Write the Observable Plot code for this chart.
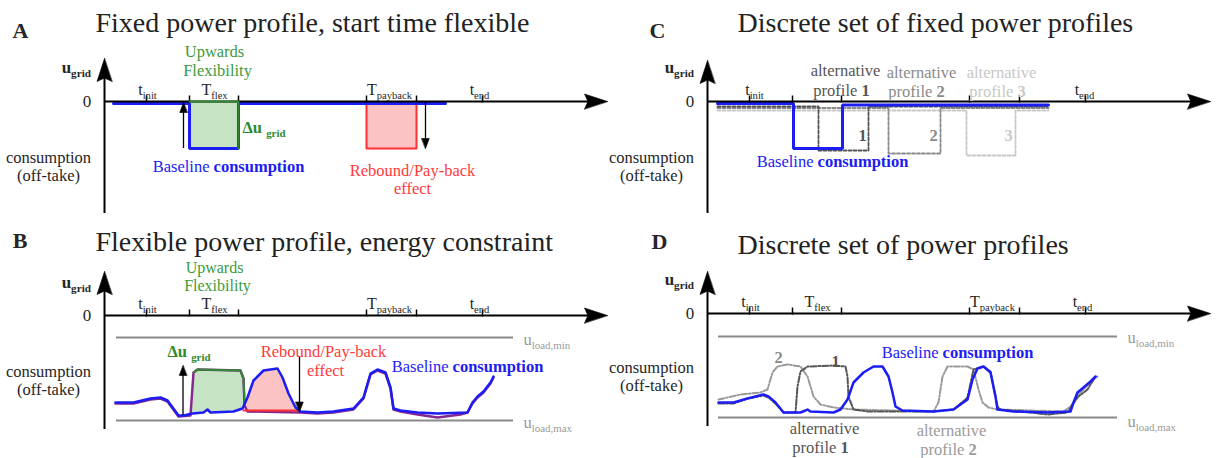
<!DOCTYPE html>
<html><head><meta charset="utf-8">
<script src="https://cdn.jsdelivr.net/npm/d3@7"></script>
<script src="https://cdn.jsdelivr.net/npm/@observablehq/plot@0.6"></script>
<style>
html,body{margin:0;padding:0;background:#fff;}
#fig{position:relative;width:1222px;height:458px;overflow:hidden;background:#fff;}
#fig > div{position:absolute;}
</style></head><body><div id="fig"></div>
<script>
// ---------------- data (time units / grid-power units) ----------------
const panelLetters = ["A", "B", "C", "D"];
const panelTitles = [
  "Fixed power profile, start time flexible",
  "Flexible power profile, energy constraint",
  "Discrete set of fixed power profiles",
  "Discrete set of power profiles"
];
const tickTimes = [8.4, 17, 26.8, 52.4, 62.4, 75.6];
const tickLabels = [[8.6, "t_{init}"], [22, "T_{flex}"], [57, "T_{payback}"], [75, "t_{end}"]];
const tickLabelsC = [[9.4, "t_{init}"], [75.4, "t_{end}"]];

// Panel A
const baselineA = [[1.8,-0.4],[17,-0.4],[17,-9.4],[26.8,-9.4],[26.8,-0.4],[68.2,-0.4]];
const flexA = [[17,0],[26.8,0],[26.8,-9.4]];
const flexAreaA = [[17,-9.4,0],[26.8,-9.4,0]];
const reboundAreaA = [[52.4,-9.4,0],[62.4,-9.4,0]];
const reboundA = [[52.4,0],[52.4,-9.4],[62.4,-9.4],[62.4,0]];

// Panel B
const baselineB = [[2.2,-17.4],[5.8,-17.4],[9.2,-16.6],[11.2,-16.4],[12.6,-17],[14.8,-20],[15.8,-20],[17.6,-19.6],[19.8,-19.4],[20.6,-18.8],[21.2,-19.4],[25.8,-19.2],[27.6,-18.6],[28.6,-16.4],[29.8,-13],[31.8,-11],[34.6,-10.6],[35.6,-12.4],[36.8,-15.6],[38.2,-18.4],[39.2,-19.2],[42.6,-19.4],[45.8,-19.2],[49.8,-18.6],[51.8,-16.4],[53.2,-11.6],[54.6,-10.8],[56.2,-11.4],[57.2,-14.4],[57.8,-18.6],[59.2,-19],[62.6,-19.4],[66.6,-19.6],[72.6,-19.4],[73.6,-17.4],[74.6,-16.2],[75.8,-15.2],[77.2,-13.4],[77.8,-12.2]];
const flexibleB = [[2.2,-17.6],[5.8,-17.6],[9.2,-16.8],[11.2,-16.6],[12.6,-17.2],[14.8,-20.2],[17.2,-20],[17.8,-11.4],[18.6,-10.8],[27.2,-11],[27.8,-12.6],[28,-18],[28.6,-19.2],[39.2,-19.4],[42.6,-19.6],[45.8,-19.4],[49.8,-18.8],[51.8,-16.6],[53.2,-11.8],[54.6,-11],[56.2,-11.6],[57.2,-14.6],[57.8,-18.8],[59.2,-19.2],[62.6,-19.8],[66.6,-20.4],[71.2,-19.8],[72.6,-19.4],[73.6,-17.6],[74.6,-16.4],[75.8,-15.4],[77.2,-13.6],[77.8,-12.4]];
const flexTopB = [[17.8,-11.4],[18.6,-10.8],[27.2,-11],[27.8,-12.6],[28,-17.2]];
const flexAreaB = [[17.6,-19.6,-19.6],[17.8,-19.6,-11.4],[18.6,-19.5,-10.8],[19.8,-19.4,-10.9],[20.6,-18.8,-10.9],[21.2,-19.4,-10.9],[25.8,-19.2,-11],[27.2,-18.9,-11],[27.6,-18.6,-11.8],[27.8,-18.2,-12.6],[28.1,-17.4,-17.4]];
const reboundAreaB = [[28.1,-17.4,-17.4],[28.6,-19,-16.4],[29.8,-19,-13],[31.8,-19,-11],[34.6,-19,-10.6],[35.6,-19,-12.4],[36.8,-19,-15.6],[38.2,-19,-18.4],[39,-19,-19]];
const reboundFloorB = [[27.8,-19],[38.8,-19]];
const loadMinB = -4.4, loadMaxB = -21;

// Panel C
const baselineC = [[2,-0.4],[17.2,-0.4],[17.2,-9.4],[27,-9.4],[27,-0.7],[68.2,-0.7]];
const profile1C = [[2,-1],[22.2,-1],[22.2,-9.8],[32.2,-9.8],[32.2,-1],[68.2,-1]];
const profile2C = [[2,-1.3],[36.2,-1.3],[36.2,-10.4],[46.6,-10.4],[46.6,-1.3],[68.2,-1.3]];
const profile3C = [[2,-1.8],[51.8,-1.8],[51.8,-10.8],[61.6,-10.8],[61.6,-1.8],[68.2,-1.8]];

// Panel D
const baselineD = [[2.2,-17.8],[5.2,-17.8],[8,-17],[11.2,-16.2],[12.2,-16.6],[13.6,-17.8],[15.2,-19.8],[18.6,-19.8],[19.6,-19.4],[20,-19.2],[20.6,-19.6],[25.2,-19.8],[26.6,-19.2],[28,-17.2],[29.2,-13.8],[31.2,-11.8],[33.2,-10.6],[35,-10.6],[36.2,-12.6],[37,-15.8],[37.6,-18.6],[39,-19.4],[45.2,-19.6],[49.2,-19.2],[52,-17.2],[53,-13.2],[54,-11],[55.2,-10.6],[56.6,-11.8],[57.6,-16.6],[58,-19.2],[61.2,-19.6],[68,-19.8],[72.6,-19.6],[73.2,-17.8],[74,-15.8],[75.2,-14.8],[76.6,-13.6],[77.6,-12.6]];
const alt1D = [[2.2,-18],[5.2,-18],[8,-17],[11.2,-16.4],[12.2,-16.8],[13.6,-18],[15.2,-19.8],[17.6,-19.8],[18,-14.6],[18.6,-11.6],[20,-10.6],[25.2,-10.4],[27.6,-10.6],[28,-12.6],[28.2,-16.6],[29.2,-19.2],[32,-19.6],[45.2,-19.6],[49.2,-19.2],[52,-16.8],[53.2,-11.2],[55.2,-10.6],[56.6,-11.6],[58,-18.6],[58.6,-19.2],[64.6,-19.8],[68,-20.2],[72,-19.8],[73,-18.2],[74.2,-16.6],[76,-15.2],[77.6,-12.6]];
const alt2D = [[2.2,-17.2],[6.6,-16.2],[10.6,-15.8],[12,-15.2],[13,-11.8],[14,-10.6],[16,-10.2],[18.6,-10.6],[20,-12.6],[21.2,-16.6],[22.6,-18.2],[25.2,-18.8],[29.2,-19.2],[45.2,-19.6],[46.2,-17.8],[47,-12.6],[48,-10.6],[52,-10.6],[53.2,-11.2],[54.2,-15.2],[55,-17.8],[56.2,-18.8],[58,-19.2],[71.2,-19.6],[72.6,-18.6],[74.6,-15.8],[77.2,-13.2],[78,-12.6]];
const loadMinD = -4.6, loadMaxD = -20.8;

// ---------------- styling / layout ----------------
const W = 611, H = 229, PX = 5;
const FONT = "Liberation Serif";
const INK = "#262626";
const BLUE = "#1c1cf5", PURPLE = "#86288f";
const GREEN_TXT = "#3b9b3b", GREEN_LINE = "#2f8a2f", GREEN_FILL = "#c6e3c4";
const RED_TXT = "#ff3a3a", RED_LINE = "#ff3030", RED_FILL = "#fbc3c3";
const G1 = "#555555", G2 = "#8a8a8a", G3 = "#c8c8c8";
const X = d => d[0], Y = d => d[1];

function head(tip, dir, len, half, notch = 1) {
  const [tx, ty] = tip, [dx, dy] = dir, px = -dy, py = dx;
  const bx = tx - dx * len, by = ty - dy * len;
  const pts = [[tx, ty], [bx + px * half, by + py * half]];
  if (notch < 1) pts.push([tx - dx * len * notch, ty - dy * len * notch]);
  pts.push([bx - px * half, by - py * half]);
  return Plot.line(pts, {x: X, y: Y, fill: "black", stroke: "black", strokeWidth: 0.6, curve: "linear-closed"});
}
function txt(t, u, s, o = {}) {
  return Plot.text([[t, u, s]], {x: X, y: Y, text: d => d[2], fontFamily: FONT, fontSize: 16.5,
    fill: INK, textAnchor: "middle", lineAnchor: "middle", ...o});
}
function vArrow(t, from, tip) {
  const dir = tip > from ? 1 : -1;
  return [Plot.ruleX([t], {y1: from, y2: tip - dir * 1.6, stroke: "black", strokeWidth: 1.3}),
          head([t, tip], [0, dir], 2, 0.75)];
}
function frame(p) {
  const tipY = p.yTop;
  return [
    Plot.ruleX([0], {y1: p.yBottom, y2: tipY - 3, stroke: "black", strokeWidth: 2}),
    head([0, tipY], [0, 1], 4.6, 1.5, 0.85),
    Plot.ruleY([0], {x1: 0, x2: 97, stroke: "black", strokeWidth: 2}),
    head([100.6, 0], [1, 0], 4.6, 1.5, 0.85),
    Plot.ruleX(tickTimes, {x: d => d, y1: -0.3, y2: 1.1, stroke: "black", strokeWidth: 1.5}),
    Plot.text(p.ticks, {x: X, y: 2.3, text: d => d[1], fontFamily: FONT, fontSize: 16, fill: INK}),
    txt(-3.5, 0, "0", {fontSize: 17}),
    txt(-2.7, p.ugridY, "u_{grid}", {fontWeight: "bold", fontSize: 17, textAnchor: "end"}),
    txt(-11.2, p.consY, "consumption"),
    txt(-11.2, p.consY - 3.6, "(off-take)"),
    txt(p.letter[0], p.letter[1], p.letter[2], {fontWeight: "bold", fontSize: 22}),
    txt(p.title[0], p.title[1], p.title[2], {fontSize: 28, textAnchor: "start", fill: "#222"})
  ];
}
function applyMarkup(svg) {
  svg.querySelectorAll("text").forEach(el => {
    const s = el.textContent;
    if (!/[_*]/.test(s)) return;
    const fs = parseFloat(getComputedStyle(el).fontSize) || 16.5;
    el.textContent = "";
    const re = /(\*[^*]+\*)|(_\{[^}]+\})|([^*_]+)/g;
    let m;
    while ((m = re.exec(s))) {
      const ts = document.createElementNS("http://www.w3.org/2000/svg", "tspan");
      if (m[1]) { ts.textContent = m[1].slice(1, -1); ts.setAttribute("font-weight", "bold"); }
      else if (m[2]) { ts.textContent = m[2].slice(2, -1); ts.setAttribute("font-size", (fs * 0.66).toFixed(1)); ts.setAttribute("dy", (fs * 0.26).toFixed(1)); }
      else ts.textContent = m[3];
      el.appendChild(ts);
    }
  });
}
const fig = document.getElementById("fig");
function make(left, top, axisX, axisY, marks) {
  const svg = Plot.plot({
    width: W, height: H, margin: 0,
    x: {domain: [-axisX / PX, (W - axisX) / PX], axis: null},
    y: {domain: [(axisY - H) / PX, axisY / PX], axis: null},
    style: {background: "transparent", overflow: "visible"},
    marks
  });
  const d = document.createElement("div");
  d.style.left = left + "px"; d.style.top = top + "px";
  d.appendChild(svg); fig.appendChild(d);
  applyMarkup(svg);
}

// ---------------- Panel A ----------------
make(0, 0, 104, 101, [
  Plot.areaY(flexAreaA, {x: X, y1: d => d[1], y2: d => d[2], fill: GREEN_FILL}),
  Plot.areaY(reboundAreaA, {x: X, y1: d => d[1], y2: d => d[2], fill: RED_FILL}),
  Plot.line(reboundA, {x: X, y: Y, stroke: RED_LINE, strokeWidth: 2}),
  Plot.line(baselineA, {x: X, y: Y, stroke: BLUE, strokeWidth: 3, strokeLinejoin: "miter"}),
  ...frame({yTop: 8.6, yBottom: -22.4, ticks: tickLabels, ugridY: 6.8, consY: -11.2,
    letter: [-16.8, 14.2, panelLetters[0]], title: [-1.8, 15.6, panelTitles[0]]}),
  Plot.line(flexA, {x: X, y: Y, stroke: GREEN_LINE, strokeWidth: 2}),
  ...vArrow(15.8, -9.4, -0.2),
  ...vArrow(64.2, 0, -9.4),
  txt(22, 10, "Upwards", {fill: GREEN_TXT}),
  txt(22.6, 6.2, "Flexibility", {fill: GREEN_TXT}),
  txt(27.6, -5.2, "Δu _{grid}", {fill: GREEN_LINE, fontWeight: "bold", textAnchor: "start"}),
  txt(24.8, -13, "Baseline *consumption*", {fill: BLUE}),
  txt(61.6, -13.8, "Rebound/Pay-back", {fill: RED_TXT}),
  txt(61.6, -17.4, "effect", {fill: RED_TXT})
]);

// ---------------- Panel B ----------------
make(0, 229, 104, 86, [
  Plot.areaY(flexAreaB, {x: X, y1: d => d[1], y2: d => d[2], fill: GREEN_FILL}),
  Plot.areaY(reboundAreaB, {x: X, y1: d => d[1], y2: d => d[2], fill: RED_FILL}),
  Plot.ruleY([loadMinB, loadMaxB], {x1: 2.4, x2: 81.8, stroke: G2, strokeWidth: 2}),
  txt(83.8, loadMinB - 0.4, "u_{load,min}", {fill: "#9a9a9a", textAnchor: "start"}),
  txt(83.8, loadMaxB - 0.4, "u_{load,max}", {fill: "#9a9a9a", textAnchor: "start"}),
  Plot.line(flexibleB, {x: X, y: Y, stroke: PURPLE, strokeWidth: 2.5}),
  Plot.line(flexTopB, {x: X, y: Y, stroke: GREEN_LINE, strokeWidth: 2}),
  Plot.line(reboundFloorB, {x: X, y: Y, stroke: RED_LINE, strokeWidth: 2}),
  Plot.line(baselineB, {x: X, y: Y, stroke: BLUE, strokeWidth: 2.5}),
  ...frame({yTop: 8.8, yBottom: -22.8, ticks: tickLabels, ugridY: 6.6, consY: -11.2,
    letter: [-16.9, 14.9, panelLetters[1]], title: [-1.8, 14.6, panelTitles[1]]}),
  ...vArrow(15.7, -20, -10),
  ...vArrow(39, -8.3, -19.3),
  txt(22, 9.5, "Upwards", {fill: GREEN_TXT, fontSize: 16}),
  txt(22.6, 5.9, "Flexibility", {fill: GREEN_TXT, fontSize: 16}),
  txt(12.6, -7.2, "Δu _{grid}", {fill: GREEN_LINE, fontWeight: "bold", textAnchor: "start"}),
  txt(43.8, -7.2, "Rebound/Pay-back", {fill: RED_TXT}),
  txt(44.2, -11.1, "effect", {fill: RED_TXT}),
  txt(72.6, -10.2, "Baseline *consumption*", {fill: BLUE})
]);

// ---------------- Panel C ----------------
make(611, 0, 96, 101, [
  Plot.line(profile3C, {x: X, y: Y, stroke: G3, strokeWidth: 1.8, strokeDasharray: "3,2"}),
  Plot.line(profile2C, {x: X, y: Y, stroke: G2, strokeWidth: 1.8, strokeDasharray: "3,2"}),
  Plot.line(profile1C, {x: X, y: Y, stroke: G1, strokeWidth: 1.8, strokeDasharray: "3,2"}),
  Plot.line(baselineC, {x: X, y: Y, stroke: BLUE, strokeWidth: 3, strokeLinejoin: "miter"}),
  ...frame({yTop: 8.2, yBottom: -22.4, ticks: tickLabelsC, ugridY: 6.8, consY: -11.2,
    letter: [-10, 14.2, panelLetters[2]], title: [6, 15.7, panelTitles[2]]}),
  txt(31, -6.8, "1", {fill: G1, fontWeight: "bold"}),
  txt(45.2, -6.8, "2", {fill: G2, fontWeight: "bold"}),
  txt(60.2, -6.8, "3", {fill: G3, fontWeight: "bold"}),
  txt(27.6, 6.2, "alternative", {fill: G1}),
  txt(26.8, 2.2, "profile *1*", {fill: G1}),
  txt(42.8, 5.8, "alternative", {fill: G2}),
  txt(41.8, 2, "profile *2*", {fill: G2}),
  txt(58.8, 5.8, "alternative", {fill: G3}),
  txt(58, 2, "profile *3*", {fill: G3}),
  txt(25, -12, "Baseline *consumption*", {fill: BLUE})
]);

// ---------------- Panel D ----------------
make(611, 229, 96, 84, [
  Plot.ruleY([loadMinD, loadMaxD], {x1: 2.2, x2: 82, stroke: G2, strokeWidth: 2}),
  txt(84, loadMinD - 0.2, "u_{load,min}", {fill: "#9a9a9a", textAnchor: "start"}),
  txt(84, loadMaxD - 0.8, "u_{load,max}", {fill: "#9a9a9a", textAnchor: "start"}),
  Plot.line(alt2D, {x: X, y: Y, stroke: "#9a9a9a", strokeWidth: 2, strokeDasharray: "6,2,1.5,2"}),
  Plot.line(alt1D, {x: X, y: Y, stroke: G1, strokeWidth: 2, strokeDasharray: "6,2,1.5,2"}),
  Plot.line(baselineD, {x: X, y: Y, stroke: BLUE, strokeWidth: 2.5}),
  ...frame({yTop: 8.4, yBottom: -22.6, ticks: tickLabels, ugridY: 6.8, consY: -10.8,
    letter: [-9.6, 14.3, panelLetters[3]], title: [6, 13.6, panelTitles[3]]}),
  txt(14.2, -8.8, "2", {fill: G2, fontWeight: "bold"}),
  txt(25.6, -9.6, "1", {fill: G1, fontWeight: "bold"}),
  txt(50, -7.8, "Baseline *consumption*", {fill: BLUE}),
  txt(23.4, -23, "alternative", {fill: G1}),
  txt(22.6, -26.8, "profile *1*", {fill: G1}),
  txt(48.8, -23.4, "alternative", {fill: "#9a9a9a"}),
  txt(48.2, -27.2, "profile *2*", {fill: "#9a9a9a"})
]);
</script>
</body></html>
